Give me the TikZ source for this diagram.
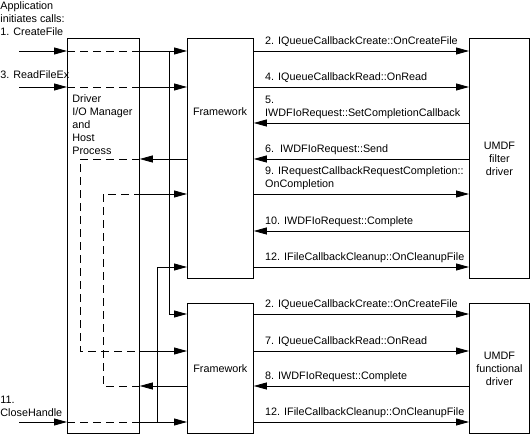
\documentclass[tikz,border=0pt]{standalone}
\usepackage{fontspec}
\setmainfont{Liberation Sans}
\usetikzlibrary{arrows.meta}

\tikzset{
	box/.style={draw, inner sep=0pt, anchor=north west, align=center},
	arr/.style={-{Triangle[length=13pt,width=7pt]}},
	dsh/.style={dash pattern=on 8pt off 5pt},
	lbl/.style={anchor=south west, inner sep=0pt, text depth=0pt, align=left, xshift=11pt, yshift=6.5pt},
	txt/.style={anchor=south west, inner sep=0pt, text depth=0pt, align=left},
}

\begin{document}
\begin{tikzpicture}[x=1pt, y=-1pt, line width=0.8pt, every node/.style={font=\fontsize{10.8}{13}\selectfont}]
	\useasboundingbox (0,0) rectangle (530,435);
	\node[box, minimum width=72pt, minimum height=395pt] (drv) at (67,38) {};
	\node[box, minimum width=66pt, minimum height=240pt] (fwa) at (187,38) {};
	\node[box, minimum width=66pt, minimum height=130pt] (fwb) at (187,303) {Framework};
	\node[box, minimum width=60pt, minimum height=240pt] (flt) at (469,38) {UMDF\\filter\\driver};
	\node[box, minimum width=60pt, minimum height=130pt] (fnc) at (469,303) {UMDF\\functional\\driver};
	\node[anchor=base, inner sep=0pt] (fwatext) at (220,116) {Framework};
	\node[txt] (drvtext) at (72,155) {Driver\\I/O Manager\\and\\Host\\Process};
	\node[txt] (apptext) at (0,36) {Application\\initiates calls:\\1. CreateFile};
	\node[txt] (readtext) at (0,79) {3. ReadFileEx};
	\node[txt] (closetext) at (0,417) {11.\\CloseHandle};
	\coordinate (r1) at (0,51);
	\coordinate (r3) at (0,87);
	\coordinate (r5) at (0,123);
	\coordinate (r6) at (0,159);
	\coordinate (r9) at (0,194);
	\coordinate (r10) at (0,231);
	\coordinate (r12) at (0,267);
	\coordinate (s2) at (0,314);
	\coordinate (s7) at (0,351);
	\coordinate (s8) at (0,386);
	\coordinate (s12) at (0,422);
	\coordinate (app) at (19,0);
	\coordinate (loopa) at (80,0);
	\coordinate (loopb) at (103,0);
	\coordinate (forkb) at (157,0);
	\coordinate (forka) at (169,0);
	\draw[arr] (app |- r1) -- (drv.west |- r1);
	\draw[dsh] (drv.west |- r1) -- (drv.east |- r1);
	\draw[arr] (drv.east |- r1) -- (fwa.west |- r1);
	\draw[arr] (forka |- r1) |- (fwb.west |- s2);
	\draw[arr] (app |- r3) -- (drv.west |- r3);
	\draw[dsh] (drv.west |- r3) -- (drv.east |- r3);
	\draw[arr] (drv.east |- r3) -- (fwa.west |- r3);
	\draw[arr] (app |- s12) -- (drv.west |- s12);
	\draw[dsh] (drv.west |- s12) -- (drv.east |- s12);
	\draw[arr] (drv.east |- s12) -- (fwb.west |- s12);
	\draw[arr] (forkb |- s12) |- (fwa.west |- r12);
	\draw[arr] (fwa.west |- r6) -- (drv.east |- r6);
	\draw[dsh] (drv.east |- r6) -- (loopa |- r6) -- (loopa |- s7) -- (drv.east |- s7);
	\draw[arr] (drv.east |- s7) -- (fwb.west |- s7);
	\draw[arr] (fwb.west |- s8) -- (drv.east |- s8);
	\draw[dsh] (drv.east |- s8) -- (loopb |- s8) -- (loopb |- r9) -- (drv.east |- r9);
	\draw[arr] (drv.east |- r9) -- (fwa.west |- r9);
	\draw[arr] (fwa.east |- r1) -- node[lbl, pos=0] {2. IQueueCallbackCreate::OnCreateFile} (flt.west |- r1);
	\draw[arr] (fwa.east |- r3) -- node[lbl, pos=0] {4. IQueueCallbackRead::OnRead} (flt.west |- r3);
	\draw[arr] (flt.west |- r5) -- node[lbl, pos=1] {5.\\IWDFIoRequest::SetCompletionCallback} (fwa.east |- r5);
	\draw[arr] (flt.west |- r6) -- node[lbl, pos=1] {6.\ \ IWDFIoRequest::Send} (fwa.east |- r6);
	\draw[arr] (fwa.east |- r9) -- node[lbl, pos=0] {9. IRequestCallbackRequestCompletion::\\OnCompletion} (flt.west |- r9);
	\draw[arr] (flt.west |- r10) -- node[lbl, pos=1] {10. IWDFIoRequest::Complete} (fwa.east |- r10);
	\draw[arr] (fwa.east |- r12) -- node[lbl, pos=0] {12. IFileCallbackCleanup::OnCleanupFile} (flt.west |- r12);
	\draw[arr] (fwb.east |- s2) -- node[lbl, pos=0] {2. IQueueCallbackCreate::OnCreateFile} (fnc.west |- s2);
	\draw[arr] (fwb.east |- s7) -- node[lbl, pos=0] {7. IQueueCallbackRead::OnRead} (fnc.west |- s7);
	\draw[arr] (fnc.west |- s8) -- node[lbl, pos=1] {8. IWDFIoRequest::Complete} (fwb.east |- s8);
	\draw[arr] (fwb.east |- s12) -- node[lbl, pos=0] {12. IFileCallbackCleanup::OnCleanupFile} (fnc.west |- s12);
\end{tikzpicture}
\end{document}
